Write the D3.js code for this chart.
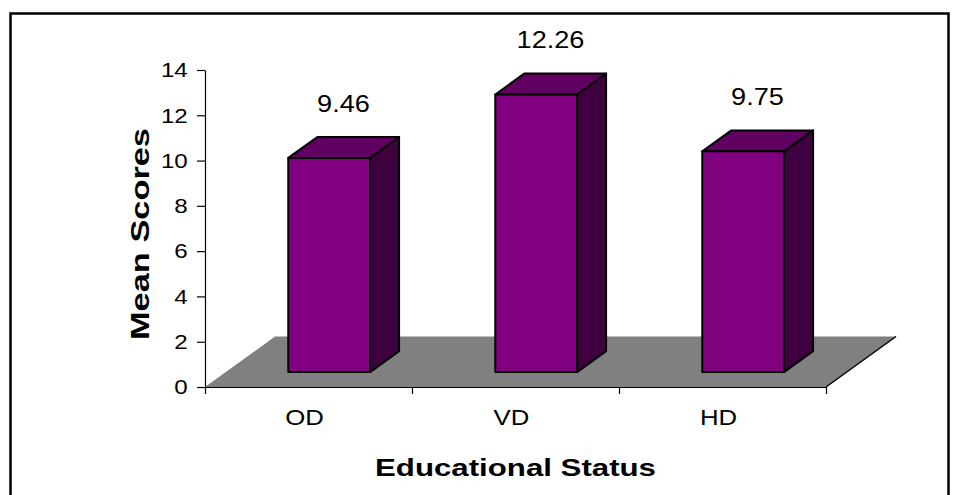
<!DOCTYPE html>
<html>
<head>
<meta charset="utf-8">
<script src="https://cdn.jsdelivr.net/npm/d3@7"></script>
<style>
  html, body { margin: 0; padding: 0; background: #fff; }
  text { font-family: "Liberation Sans", Arial, sans-serif; }
</style>
</head>
<body>
<div id="chart"></div>
<script>
// chart data
var categories = ["OD", "VD", "HD"];
var meanScores = [9.46, 12.26, 9.75];
var yTicks = [0, 2, 4, 6, 8, 10, 12, 14];
var yTitle = "Mean Scores";
var xTitle = "Educational Status";

var config = {
  "width": 960,
  "height": 495,
  "left": 205,
  "right": 826,
  "top": 70,
  "bottom": 387,
  "depthX": 70,     // floor depth offset in px
  "depthY": 50.5,
  "z1": 0.295,      // bar depth range (fraction of floor depth)
  "z2": 0.71,
  "barFrac": 0.395
};

var svg = d3.select("#chart")
  .append("svg")
  .attr("width", config.width)
  .attr("height", config.height);

svg.append("rect")
  .attr("width", config.width)
  .attr("height", config.height)
  .attr("fill", "#fff");

// outer frame (bottom runs off the picture)
svg.append("rect")
  .attr("x", 10.5)
  .attr("y", 13.5)
  .attr("width", 938)
  .attr("height", 520)
  .attr("fill", "none")
  .attr("stroke", "#000")
  .attr("stroke-width", 2.5);

var x = d3.scaleBand()
  .domain(categories)
  .range([config.left, config.right])
  .padding(0);

var y = d3.scaleLinear()
  .domain([0, 14])
  .range([config.bottom, config.top]);

// project (x, value, depth) to screen
function p(xv, v, z) {
  return [xv + z * config.depthX, y(v) - z * config.depthY];
}

// floor
var floor = [p(config.left, 0, 0), p(config.right, 0, 0), p(config.right, 0, 1), p(config.left, 0, 1)];
svg.append("polygon")
  .attr("points", floor.map(function(d) { return d.join(","); }).join(" "))
  .attr("fill", "#808080");
svg.append("line")
  .attr("x1", floor[1][0]).attr("y1", floor[1][1])
  .attr("x2", floor[2][0]).attr("y2", floor[2][1])
  .attr("stroke", "#000")
  .attr("stroke-width", 1.5);

// y axis
var yAxis = svg.append("g")
  .attr("transform", "translate(" + config.left + ",0)")
  .call(d3.axisLeft(y).tickValues(yTicks).tickSize(8).tickSizeOuter(0).tickPadding(7));
yAxis.selectAll("path, line").attr("stroke", "#000").attr("stroke-width", 1.2);
yAxis.selectAll("text")
  .attr("font-size", 21)
  .attr("fill", "#000")
  .style("font-family", "'Liberation Sans', Arial, sans-serif")
  .attr("transform", "scale(1.15,1)");

// x axis: ticks on the category boundaries
var xb = d3.scaleLinear().domain([0, categories.length]).range([config.left, config.right]);
var xAxis = svg.append("g")
  .attr("transform", "translate(0," + config.bottom + ")")
  .call(d3.axisBottom(xb).tickValues(d3.range(categories.length + 1)).tickSize(7).tickSizeOuter(0).tickFormat(""));
xAxis.selectAll("path, line").attr("stroke", "#000").attr("stroke-width", 1.2);

svg.append("g")
  .selectAll("text")
  .data(categories)
  .enter()
  .append("text")
  .attr("transform", function(d) {
    return "translate(" + (x(d) + x.bandwidth() / 2 - 4) + "," + (config.bottom + 38) + ") scale(1.12,1)";
  })
  .attr("text-anchor", "middle")
  .attr("font-size", 23)
  .text(function(d) { return d; });

// 3d bars
var bars = svg.append("g")
  .selectAll("g")
  .data(categories.map(function(c, i) { return {"cat": c, "value": meanScores[i]}; }))
  .enter()
  .append("g");

var bw = x.bandwidth() * config.barFrac;

function poly(pts) {
  return pts.map(function(d) { return d.join(","); }).join(" ");
}

bars.each(function(d) {
  var g = d3.select(this);
  var xc = x(d.cat) + x.bandwidth() / 2;
  var xl = xc - bw / 2, xr = xc + bw / 2;
  var z1 = config.z1, z2 = config.z2;

  // right side
  g.append("polygon")
    .attr("points", poly([p(xr, d.value, z1), p(xr, d.value, z2), p(xr, 0, z2), p(xr, 0, z1)]))
    .attr("fill", "#3e003e");
  // top
  g.append("polygon")
    .attr("points", poly([p(xl, d.value, z1), p(xr, d.value, z1), p(xr, d.value, z2), p(xl, d.value, z2)]))
    .attr("fill", "#600060");
  // front
  g.append("polygon")
    .attr("points", poly([p(xl, d.value, z1), p(xr, d.value, z1), p(xr, 0, z1), p(xl, 0, z1)]))
    .attr("fill", "#800080");

  g.selectAll("polygon")
    .attr("stroke", "#000")
    .attr("stroke-width", 2)
    .attr("stroke-linejoin", "round");

  // value label
  var lp = p(xc, d.value, 0.5);
  g.append("text")
    .attr("transform", "translate(" + lp[0] + "," + (lp[1] - 36) + ") scale(1.13,1)")
    .attr("text-anchor", "middle")
    .attr("font-size", 24)
    .text(d.value.toFixed(2));
});

// axis titles
svg.append("text")
  .attr("transform", "translate(149,234) rotate(-90)")
  .attr("text-anchor", "middle")
  .attr("font-size", 25)
  .attr("font-weight", "bold")
  .attr("textLength", 212)
  .attr("lengthAdjust", "spacingAndGlyphs")
  .text(yTitle);

svg.append("text")
  .attr("x", (config.left + config.right) / 2)
  .attr("y", 476)
  .attr("text-anchor", "middle")
  .attr("font-size", 24)
  .attr("font-weight", "bold")
  .attr("textLength", 281)
  .attr("lengthAdjust", "spacingAndGlyphs")
  .text(xTitle);
</script>
</body>
</html>
